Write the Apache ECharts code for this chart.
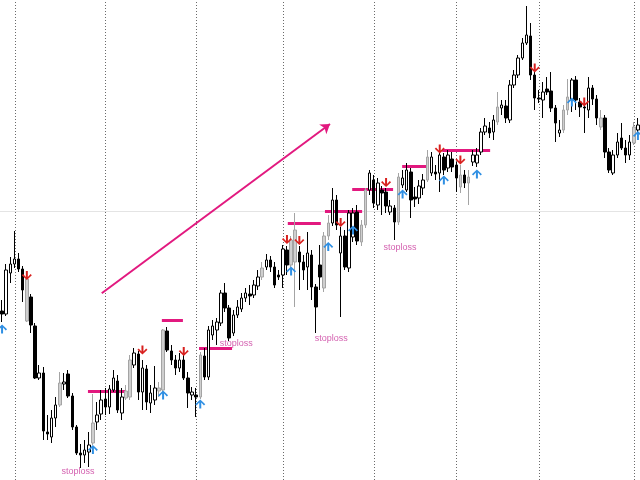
<!DOCTYPE html>
<html>
<head>
<meta charset="utf-8">
<script src="https://cdn.jsdelivr.net/npm/echarts@6/dist/echarts.min.js"></script>
<style>html,body{margin:0;padding:0;background:#fff;}#c{width:640px;height:480px;}</style>
</head>
<body>
<div id="c"></div>
<script>
// Each bar: [open, close, low, high] in price points
const ohlc = [
[169,166,158,180],[166,210,164,216],[207,216,197,223],[216,221,212,249],[221,211,208,227],
[211,190,178,214],[159,201,158,207],[183,155,147,186],[154,102,101,157],[102,107,100,115],
[107,49,40,113],[48,46,40,65],[43,62,37,70],[62,75,53,83],[75,97,73,108],
[96,98,90,107],[106,84,82,110],[84,53,50,87],[53,27,25,55],[27,25,12,36],
[25,30,17,40],[28,35,13,48],[37,57,35,86],[58,65,50,78],[66,80,60,90],
[81,73,65,92],[73,91,66,95],[90,102,88,110],[99,70,67,105],[67,83,60,92],
[82,89,80,95],[83,120,80,125],[115,127,112,132],[126,88,80,129],[88,112,70,120],
[111,78,70,115],[77,87,67,95],[80,92,75,114],[89,92,83,98],[90,150,88,151],
[149,130,128,153],[129,120,115,135],[120,112,105,125],[112,120,108,127],[120,102,100,127],
[102,87,72,108],[85,88,80,93],[85,83,63,92],[83,125,81,128],[124,103,100,132],
[103,150,100,154],[145,154,140,160],[150,158,135,162],[157,187,154,190],[187,172,168,197],
[172,142,139,175],[147,165,144,170],[165,173,162,180],[171,182,168,187],[182,187,178,192],
[186,184,175,195],[185,195,182,200],[194,203,190,210],[203,212,200,218],[213,220,210,226],
[220,213,208,224],[213,195,192,218],[205,203,200,210],[205,231,192,235],[230,215,205,234],
[215,240,212,244],[218,250,173,267],[228,218,190,234],[218,210,200,225],[213,227,190,248],
[225,193,180,230],[193,173,147,196],[215,203,190,235],[192,244,188,248],[244,257,240,265],
[257,280,254,292],[280,255,250,285],[227,244,163,253],[244,213,210,250],[212,267,208,270],
[243,267,238,272],[268,239,235,275],[238,255,234,260],[255,290,252,292],[290,307,285,310],
[300,277,272,305],[275,297,270,302],[290,287,265,294],[288,274,267,292],[268,274,265,280],
[272,258,240,275],[258,303,255,307],[295,302,292,310],[290,310,288,317],[308,280,262,312],
[283,281,273,293],[282,294,276,300],[292,300,285,306],[300,323,298,330],[307,323,304,328],
[308,306,300,315],[307,325,288,327],[323,310,305,327],[312,325,308,330],[321,313,308,328],
[315,302,288,318],[293,305,287,315],[305,297,292,310],[297,303,275,310],[318,325,314,330],
[317,325,313,332],[328,348,325,352],[348,354,345,362],[352,347,342,358],[348,360,340,365],
[358,373,355,388],[372,375,365,380],[374,362,357,380],[360,395,357,400],[395,405,392,410],
[405,422,402,425],[422,437,420,442],[437,445,435,474],[444,405,400,457],[405,382,370,408],
[382,381,377,390],[380,388,362,398],[391,388,385,403],[389,372,368,408],[372,357,338,375],
[347,350,343,360],[350,370,347,375],[370,383,365,401],[380,400,368,402],[400,380,370,404],
[378,373,363,382],[373,372,347,380],[370,392,362,403],[392,381,375,395],[381,362,355,385],
[353,362,350,370],[362,328,322,365],[328,310,307,332],[307,325,305,330],[325,338,322,347],
[342,332,330,357],[332,325,317,340],[325,338,320,345],[337,353,335,358],[350,355,345,362]
];
const categories = ohlc.map((_, i) => 'bar ' + (i + 1));
// bars flagged by the indicator (drawn in grey)
const flaggedBars = [6,14,22,30,31,38,39,48,63,70,71,78,79,87,88,96,103,111,113,120,136,137,145,153];
// session separators (bar index)
const sessionBreaks = [3.1, 25.05, 47.1, 68.1, 90.1, 110.1, 130.1, 153.05];
// buy signals [bar, price], sell signals [bar, price]
const buySignals = [[0,151],[22,30.5],[39,85],[48,76],[70,209],[79,233.5],[85,250],[97,286],[107,300],[115,306],[138,378],[154,344.5]];
const sellSignals = [[6,204.5],[34,130],[44,128.5],[69,240.5],[72,239.5],[82,257.5],[93,297.5],[106,331],[111,320],[129,412],[141,378]];
// entry levels [fromBar, toBar, price]
const levels = [[20.8,30.0,89],[38.7,43.8,159.5],[47.7,55.7,131.5],[69.2,77.2,256.5],[78.2,87.2,268.5],[84.8,94.7,290.5],[96.9,102.9,314],[106.6,118.2,329.5]];
// stoploss labels [bar, price]
const stoplossLabels = [[18.4,8.5],[56.7,136],[79.7,141],[96.4,232]];
// trend arrow [bar, price] start -> end
const trendArrow = [[24.14,186.7],[79.42,356]];
const refPrice = 269;

const N = ohlc.length;
const magenta = '#e2197f';
const flaggedSet = new Set(flaggedBars);
const candleData = ohlc.map((d, i) => {
  if (flaggedSet.has(i)) {
    return {value: d, itemStyle: {color:'#cfcfcf', color0:'#cfcfcf', borderColor:'#a4a4a4', borderColor0:'#a4a4a4'}};
  }
  return {value: d};
});

const downArrow = 'path://M4,0 L6,0 L6,6.6 L8.7,3.4 L10,4.6 L5,10 L0,4.6 L1.3,3.4 L4,6.6 Z';
const upArrow = 'path://M4,10 L6,10 L6,3.4 L8.7,6.6 L10,5.4 L5,0 L0,5.4 L1.3,6.6 L4,3.4 Z';

const chart = echarts.init(document.getElementById('c'), null, {renderer: 'canvas'});
chart.setOption({
  animation: false,
  backgroundColor: '#ffffff',
  grid: {left: 0, right: 0, top: 0, bottom: 0},
  xAxis: [
    {type: 'category', data: categories, show: false, boundaryGap: true},
    {type: 'value', min: -0.5, max: N - 0.5, show: false}
  ],
  yAxis: [{type: 'value', min: 0, max: 480, show: false}],
  series: [
    {
      type: 'lines', coordinateSystem: 'cartesian2d', xAxisIndex: 1, yAxisIndex: 0,
      silent: true,
      lineStyle: {color: '#e4e4e4', width: 1, type: 'solid', opacity: 1},
      data: [{coords: [[-0.5, refPrice], [N - 0.5, refPrice]]}]
    },
    {
      type: 'lines', coordinateSystem: 'cartesian2d', xAxisIndex: 1, yAxisIndex: 0,
      silent: true,
      lineStyle: {color: '#6a6a6a', width: 1, type: [1, 2], opacity: 1},
      data: sessionBreaks.map(x => ({coords: [[x, 0], [x, 480]]}))
    },
    {
      type: 'candlestick', xAxisIndex: 0, yAxisIndex: 0,
      barWidth: 3,
      itemStyle: {color: '#ffffff', color0: '#000000', borderColor: '#000000', borderColor0: '#000000', borderWidth: 1},
      data: candleData
    },
    {
      type: 'lines', coordinateSystem: 'cartesian2d', xAxisIndex: 1, yAxisIndex: 0,
      silent: true,
      lineStyle: {color: magenta, width: 3, opacity: 1},
      data: levels.map(l => ({coords: [[l[0], l[2]], [l[1], l[2]]]}))
    },
    {
      type: 'lines', coordinateSystem: 'cartesian2d', xAxisIndex: 1, yAxisIndex: 0,
      silent: true,
      symbol: ['none', 'arrow'], symbolSize: 9,
      lineStyle: {color: magenta, width: 2, opacity: 1},
      data: [{coords: trendArrow}]
    },
    {
      type: 'scatter', xAxisIndex: 1, yAxisIndex: 0,
      symbol: upArrow, symbolSize: [10, 9],
      itemStyle: {color: '#2f8fe3', opacity: 1},
      data: buySignals
    },
    {
      type: 'scatter', xAxisIndex: 1, yAxisIndex: 0,
      symbol: downArrow, symbolSize: [10, 9],
      itemStyle: {color: '#d8201e', opacity: 1},
      data: sellSignals
    },
    {
      type: 'scatter', xAxisIndex: 1, yAxisIndex: 0,
      symbolSize: 0,
      label: {show: true, position: 'inside', formatter: 'stoploss', color: '#c8379b', fontSize: 9, fontFamily: 'Liberation Sans, Arial, sans-serif'},
      data: stoplossLabels
    }
  ]
});
</script>
</body>
</html>
